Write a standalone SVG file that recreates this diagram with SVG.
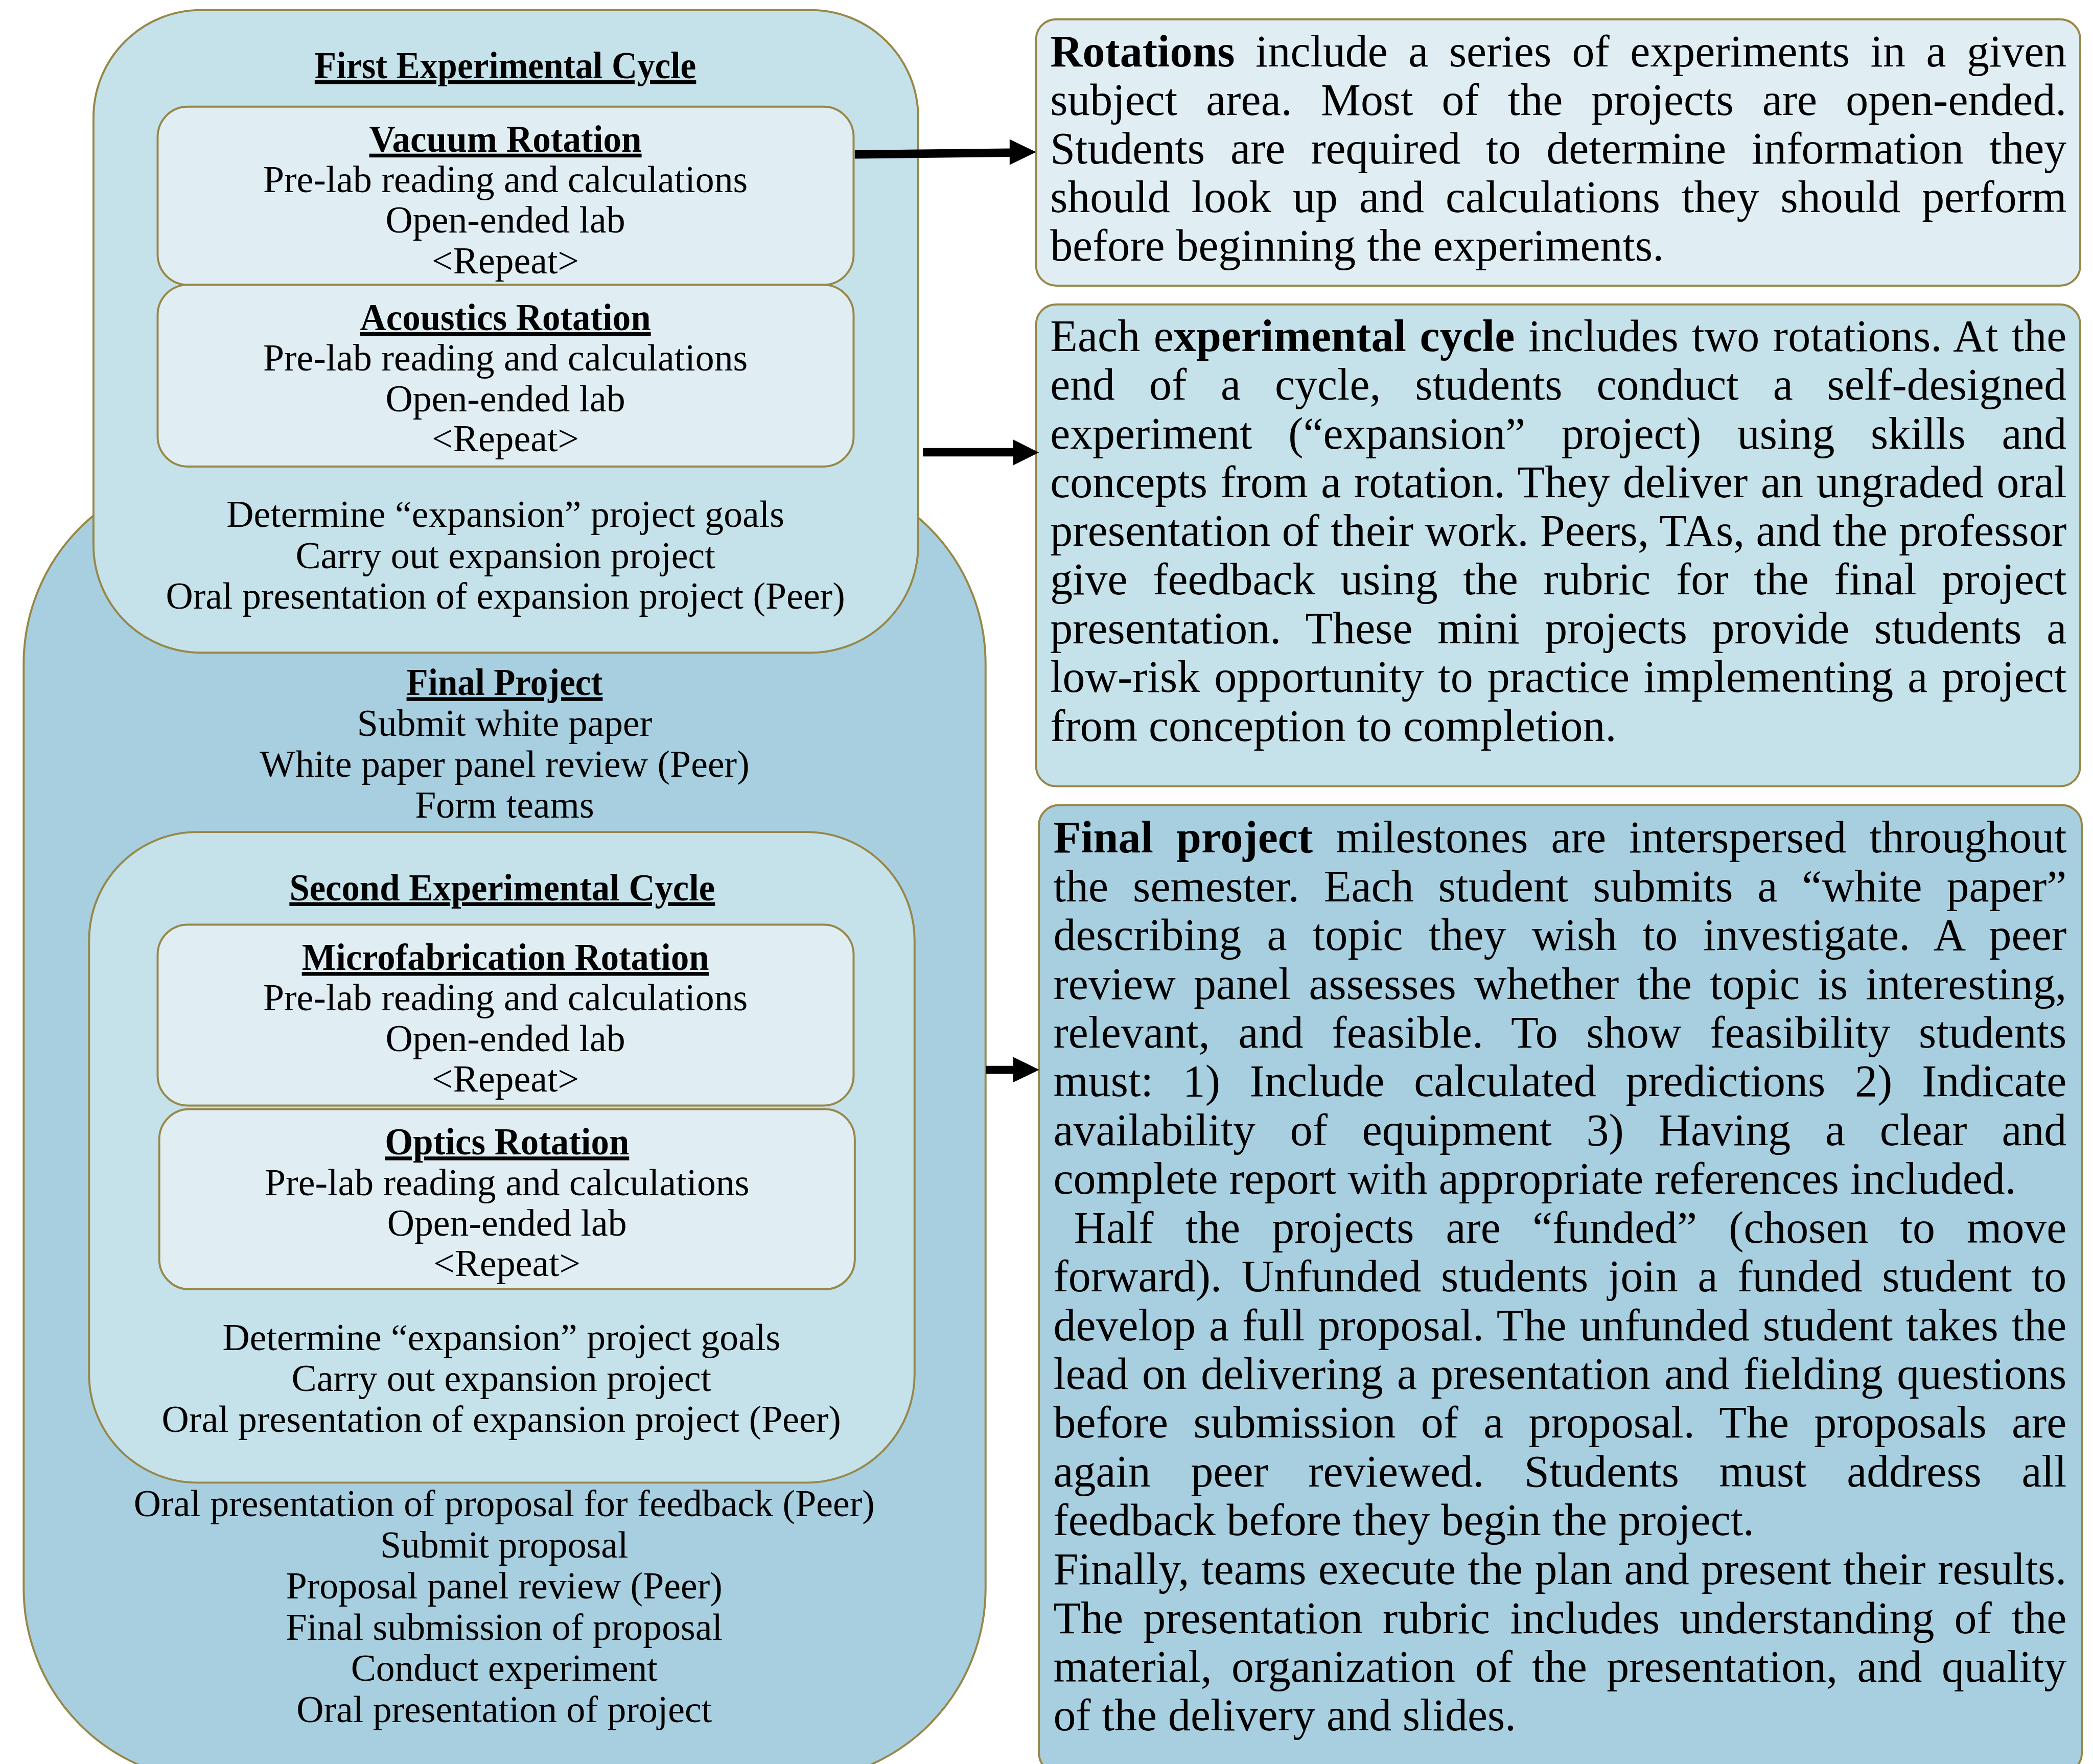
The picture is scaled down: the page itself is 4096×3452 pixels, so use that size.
<svg xmlns="http://www.w3.org/2000/svg" width="4096" height="3452" viewBox="0 0 4096 3452">
<style>
.box{stroke:#978748;stroke-width:5}
.c0{fill:#A8CFE0}
.c1{fill:#C5E1E9}
.c2{fill:#E0EEF4}
.l{font-family:"Liberation Serif","Times New Roman",serif;font-size:94px;fill:#000;text-anchor:middle}
.t{font-weight:bold;text-decoration:underline}
.r{font-family:"Liberation Serif","Times New Roman",serif;font-size:112px;fill:#000}
.b{font-weight:bold}
.arrow{fill:#000}
</style>
<rect width="4096" height="3452" fill="#fff"/>
<g transform="scale(0.785)">
<g id="final-project">
<rect class="box c0" x="59" y="1175" width="2398" height="3265" rx="480"/>
<text class="l t" x="1258" y="1733" textLength="489" lengthAdjust="spacingAndGlyphs">Final Project</text>
<text class="l" x="1258" y="1835">Submit white paper</text>
<text class="l" x="1258" y="1936">White paper panel review (Peer)</text>
<text class="l" x="1258" y="2038">Form teams</text>
<text class="l" x="1257" y="3780">Oral presentation of proposal for feedback (Peer)</text>
<text class="l" x="1257" y="3883">Submit proposal</text>
<text class="l" x="1257" y="3985">Proposal panel review (Peer)</text>
<text class="l" x="1257" y="4088">Final submission of proposal</text>
<text class="l" x="1257" y="4190">Conduct experiment</text>
<text class="l" x="1257" y="4293">Oral presentation of project</text>
</g>
<g id="first-cycle">
<rect class="box c1" x="233" y="25" width="2056" height="1602" rx="268"/>
<text class="l t" x="1260" y="195" textLength="951" lengthAdjust="spacingAndGlyphs">First Experimental Cycle</text>
<text class="l" x="1260" y="1314">Determine “expansion” project goals</text>
<text class="l" x="1260" y="1416">Carry out expansion project</text>
<text class="l" x="1260" y="1517">Oral presentation of expansion project (Peer)</text>
</g>
<g id="vacuum-rotation">
<rect class="box c2" x="393" y="266" width="1735" height="444" rx="75"/>
<text class="l t" x="1260" y="378" textLength="679" lengthAdjust="spacingAndGlyphs">Vacuum Rotation</text>
<text class="l" x="1260" y="479">Pre-lab reading and calculations</text>
<text class="l" x="1260" y="580">Open-ended lab</text>
<text class="l" x="1260" y="681">&lt;Repeat&gt;</text>
</g>
<g id="acoustics-rotation">
<rect class="box c2" x="393" y="710" width="1735" height="453" rx="75"/>
<text class="l t" x="1260" y="823" textLength="725" lengthAdjust="spacingAndGlyphs">Acoustics Rotation</text>
<text class="l" x="1260" y="924">Pre-lab reading and calculations</text>
<text class="l" x="1260" y="1025">Open-ended lab</text>
<text class="l" x="1260" y="1125">&lt;Repeat&gt;</text>
</g>
<g id="second-cycle">
<rect class="box c1" x="222" y="2074" width="2058" height="1622" rx="270"/>
<text class="l t" x="1252" y="2244" textLength="1061" lengthAdjust="spacingAndGlyphs">Second Experimental Cycle</text>
<text class="l" x="1250" y="3365">Determine “expansion” project goals</text>
<text class="l" x="1250" y="3467">Carry out expansion project</text>
<text class="l" x="1250" y="3569">Oral presentation of expansion project (Peer)</text>
</g>
<g id="microfabrication-rotation">
<rect class="box c2" x="393" y="2305" width="1735" height="451" rx="75"/>
<text class="l t" x="1260" y="2418" textLength="1015" lengthAdjust="spacingAndGlyphs">Microfabrication Rotation</text>
<text class="l" x="1260" y="2519">Pre-lab reading and calculations</text>
<text class="l" x="1260" y="2620">Open-ended lab</text>
<text class="l" x="1260" y="2721">&lt;Repeat&gt;</text>
</g>
<g id="optics-rotation">
<rect class="box c2" x="397" y="2765" width="1734" height="449" rx="75"/>
<text class="l t" x="1264" y="2878" textLength="609" lengthAdjust="spacingAndGlyphs">Optics Rotation</text>
<text class="l" x="1264" y="2979">Pre-lab reading and calculations</text>
<text class="l" x="1264" y="3080">Open-ended lab</text>
<text class="l" x="1264" y="3181">&lt;Repeat&gt;</text>
</g>
<g id="note-rotations">
<rect class="box c2" x="2583" y="48" width="2603" height="664" rx="50"/>
<text class="r" x="2618" y="166" word-spacing="23.6" textLength="2534" lengthAdjust="spacing"><tspan class="b">Rotations</tspan> include a series of experiments in a given</text>
<text class="r" x="2618" y="287" word-spacing="43.4" textLength="2534" lengthAdjust="spacing">subject area. Most of the projects are open-ended.</text>
<text class="r" x="2618" y="408" word-spacing="35.6" textLength="2534" lengthAdjust="spacing">Students are required to determine information they</text>
<text class="r" x="2618" y="529" word-spacing="25.6" textLength="2534" lengthAdjust="spacing">should look up and calculations they should perform</text>
<text class="r" x="2618" y="650">before beginning the experiments.</text>
</g>
<g id="note-cycle">
<rect class="box c1" x="2583" y="759" width="2603" height="1201" rx="50"/>
<text class="r" x="2618" y="875" word-spacing="5.6" textLength="2534" lengthAdjust="spacing">Each e<tspan class="b">xperimental cycle</tspan> includes two rotations. At the</text>
<text class="r" x="2618" y="996" word-spacing="57.2" textLength="2534" lengthAdjust="spacing">end of a cycle, students conduct a self-designed</text>
<text class="r" x="2618" y="1118" word-spacing="62" textLength="2534" lengthAdjust="spacing">experiment (“expansion” project) using skills and</text>
<text class="r" x="2618" y="1239" word-spacing="4.5" textLength="2534" lengthAdjust="spacing">concepts from a rotation. They deliver an ungraded oral</text>
<text class="r" x="2618" y="1361" textLength="2534" lengthAdjust="spacing">presentation of their work. Peers, TAs, and the professor</text>
<text class="r" x="2618" y="1482" word-spacing="35.3" textLength="2534" lengthAdjust="spacing">give feedback using the rubric for the final project</text>
<text class="r" x="2618" y="1604" word-spacing="34" textLength="2534" lengthAdjust="spacing">presentation. These mini projects provide students a</text>
<text class="r" x="2618" y="1725" word-spacing="7.6" textLength="2534" lengthAdjust="spacing">low-risk opportunity to practice implementing a project</text>
<text class="r" x="2618" y="1847">from conception to completion.</text>
</g>
<g id="note-final">
<rect class="box c0" x="2590" y="2007" width="2600" height="2413" rx="50"/>
<text class="r" x="2626" y="2125" word-spacing="29.3" textLength="2526" lengthAdjust="spacing"><tspan class="b">Final project</tspan> milestones are interspersed throughout</text>
<text class="r" x="2626" y="2247" word-spacing="32.9" textLength="2526" lengthAdjust="spacing">the semester. Each student submits a “white paper”</text>
<text class="r" x="2626" y="2368" word-spacing="35.4" textLength="2526" lengthAdjust="spacing">describing a topic they wish to investigate. A peer</text>
<text class="r" x="2626" y="2490" word-spacing="16.9" textLength="2526" lengthAdjust="spacing">review panel assesses whether the topic is interesting,</text>
<text class="r" x="2626" y="2611" word-spacing="42.5" textLength="2526" lengthAdjust="spacing">relevant, and feasible. To show feasibility students</text>
<text class="r" x="2626" y="2733" word-spacing="45.7" textLength="2526" lengthAdjust="spacing">must: 1) Include calculated predictions 2) Indicate</text>
<text class="r" x="2626" y="2855" word-spacing="58.3" textLength="2526" lengthAdjust="spacing">availability of equipment 3) Having a clear and</text>
<text class="r" x="2626" y="2976">complete report with appropriate references included.</text>
<text class="r" x="2677" y="3098" word-spacing="51.3" textLength="2475" lengthAdjust="spacing">Half the projects are “funded” (chosen to move</text>
<text class="r" x="2626" y="3219" word-spacing="21.4" textLength="2526" lengthAdjust="spacing">forward). Unfunded students join a funded student to</text>
<text class="r" x="2626" y="3341" word-spacing="5.1" textLength="2526" lengthAdjust="spacing">develop a full proposal. The unfunded student takes the</text>
<text class="r" x="2626" y="3463" word-spacing="6.7" textLength="2526" lengthAdjust="spacing">lead on delivering a presentation and fielding questions</text>
<text class="r" x="2626" y="3584" word-spacing="34.7" textLength="2526" lengthAdjust="spacing">before submission of a proposal. The proposals are</text>
<text class="r" x="2626" y="3706" word-spacing="72.1" textLength="2526" lengthAdjust="spacing">again peer reviewed. Students must address all</text>
<text class="r" x="2626" y="3827">feedback before they begin the project.</text>
<text class="r" x="2626" y="3949" word-spacing="1.6" textLength="2526" lengthAdjust="spacing">Finally, teams execute the plan and present their results.</text>
<text class="r" x="2626" y="4071" word-spacing="21.8" textLength="2526" lengthAdjust="spacing">The presentation rubric includes understanding of the</text>
<text class="r" x="2626" y="4192" word-spacing="20.8" textLength="2526" lengthAdjust="spacing">material, organization of the presentation, and quality</text>
<text class="r" x="2626" y="4314">of the delivery and slides.</text>
</g>
<g id="connectors">
<polygon class="arrow" points="2131,374.5 2517,370 2517,347 2583,379 2517,411 2517,391 2131,395.5"/>
<polygon class="arrow" points="2301,1117 2526,1117 2526,1096 2590,1128 2526,1160 2526,1138 2301,1138"/>
<polygon class="arrow" points="2458,2657 2526,2657 2526,2635 2591,2667 2526,2698 2526,2677 2458,2677"/>
</g>
</g>
</svg>
